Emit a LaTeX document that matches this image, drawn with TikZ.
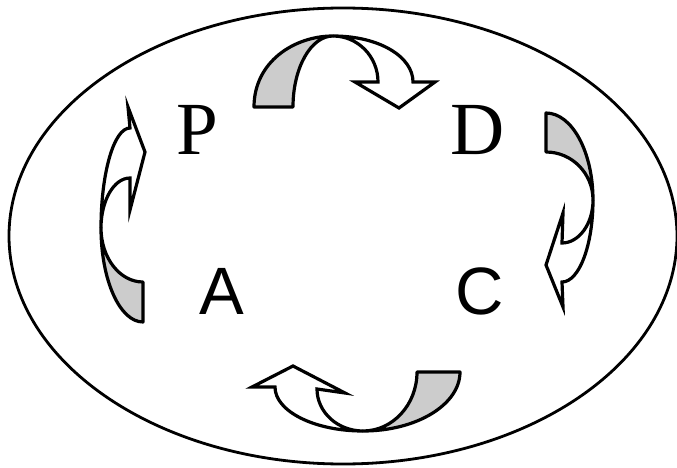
\documentclass[tikz,border=0pt]{standalone}
\usepackage{fontspec}
\newfontfamily\romanface{Liberation Serif}
\newfontfamily\sansface{Liberation Sans}
\usepackage{tikz}
\tikzset{
  rletter/.style={inner sep=0pt,font=\romanface\fontsize{75}{75}\selectfont},
  sletter/.style={inner sep=0pt,font=\sansface\fontsize{67}{67}\selectfont},
  backband/.style={draw,line width=3.2pt,fill=black!20,line join=round},
  frontarrow/.style={draw,line width=3.2pt,fill=white,line join=miter},
  frame/.style={draw,line width=2.8pt}
}
\begin{document}
\begin{tikzpicture}[x=1pt,y=-1pt]
\useasboundingbox (0,0) rectangle (677,468);
\draw[frame] (343,236) ellipse [x radius=334pt, y radius=228pt];
\node[rletter] (P) at (197.5,130) {P};
\node[rletter] (D) at (477.5,130) {D};
\node[sletter] (A) at (221.5,291) {A};
\node[sletter] (C) at (480,291) {C};
% P to D
\draw[backband] (254,107) .. controls (254,62) and (294,36) .. (333,36)
  .. controls (310.9,36) and (293,67.8) .. (293,107) -- cycle;
\draw[frontarrow] (333,36) .. controls (379,36) and (413,56.6) .. (413,82)
  -- (435,82) -- (399,108) -- (355,82) -- (378,82)
  .. controls (378,56.6) and (357.9,36) .. (333,36) -- cycle;
% D to C
\draw[backband] (546,113) .. controls (572,113) and (593,152) .. (593,200)
  .. controls (593,173.5) and (572,152) .. (546,152) -- cycle;
\draw[frontarrow] (593,200) .. controls (593,245.3) and (579.1,282) .. (562,282)
  -- (563,307) -- (546,265) -- (563,213) -- (562,243)
  .. controls (579.1,243) and (593,223.7) .. (593,200) -- cycle;
% C to A
\draw[backband] (460,372) .. controls (460,404.6) and (416.6,431) .. (363,431)
  .. controls (392.8,431) and (417,404.6) .. (417,372) -- cycle;
\draw[frontarrow] (363,431) .. controls (314.4,431) and (275,411.3) .. (275,387)
  -- (252,387) -- (293,366) -- (345,393) -- (317,389)
  .. controls (317,412.2) and (337.6,431) .. (363,431) -- cycle;
% A to P
\draw[backband] (143,322) .. controls (119.8,322) and (101,279.9) .. (101,228)
  .. controls (101,257.8) and (119.8,282) .. (143,282) -- cycle;
\draw[frontarrow] (101,228) .. controls (101,172.8) and (114,128) .. (130,128)
  -- (128,107) -- (145,152) -- (130,210) -- (130,178)
  .. controls (114,178) and (101,200.4) .. (101,228) -- cycle;
\end{tikzpicture}
\end{document}
